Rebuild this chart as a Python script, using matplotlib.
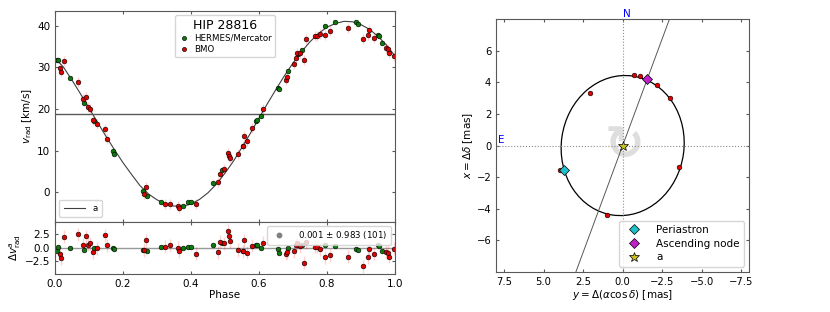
import numpy as np
import matplotlib
matplotlib.use('Agg')
import matplotlib.pyplot as plt
from matplotlib.patches import Ellipse

### radial velocity data (phase folded) ###

hermes_phase = [0.005, 0.010, 0.044, 0.085, 0.116, 0.170, 0.174, 0.258, 0.270, 0.311,
                0.377, 0.392, 0.400, 0.464, 0.492, 0.554, 0.591, 0.594, 0.605, 0.657,
                0.660, 0.686, 0.715, 0.725, 0.794, 0.824, 0.885, 0.890, 0.951, 0.954, 0.961]
hermes_rv = [31.7, 31.7, 27.4, 21.4, 17.2, 9.8, 9.3, 0.2, -1.0, -2.3,
             -3.2, -2.4, -2.3, 2.2, 5.3, 11.0, 17.0, 17.4, 18.4, 25.0,
             24.8, 29.1, 33.1, 34.1, 39.8, 40.8, 40.8, 40.3, 37.8, 37.5, 35.9]
hermes_res = [-0.5, 0.2, -0.1, -0.4, 0.0, 0.0, -0.25, -0.4, -0.6, 0.2,
              0.0, 0.2, 0.1, 0.55, 0.9, -0.5, 0.45, 0.45, -0.1, -0.2,
              -0.9, 0.0, 0.5, 0.6, 0.45, 0.3, -0.2, -0.4, 0.45, 0.4, -0.6]

bmo_phase = [0.015, 0.018, 0.026, 0.069, 0.083, 0.090, 0.098, 0.103, 0.111, 0.123,
             0.147, 0.152, 0.263, 0.267, 0.324, 0.338, 0.363, 0.366, 0.415, 0.480,
             0.485, 0.497, 0.510, 0.513, 0.515, 0.537, 0.552, 0.557, 0.564, 0.580,
             0.611, 0.680, 0.681, 0.703, 0.708, 0.713, 0.720, 0.732, 0.737, 0.765,
             0.770, 0.778, 0.794, 0.809, 0.863, 0.905, 0.921, 0.925, 0.939, 0.974,
             0.979, 0.983, 0.997]
bmo_rv = [29.9, 28.9, 31.6, 26.5, 22.4, 22.8, 20.4, 19.9, 17.4, 16.4,
          15.2, 12.9, -0.3, 1.3, -2.7, -2.7, -3.2, -3.8, -2.8, 2.4,
          4.5, 5.6, 9.5, 8.6, 8.2, 9.3, 11.0, 13.4, 12.2, 15.4,
          20.1, 27.0, 27.7, 30.8, 32.3, 33.5, 33.3, 31.7, 36.7, 37.4,
          37.6, 38.0, 37.8, 38.7, 39.5, 36.8, 37.8, 39.0, 37.1, 34.5,
          34.4, 33.5, 32.7]
bmo_res = [-1.1, -1.9, 2.0, 2.5, 0.6, 2.1, 0.6, 0.8, -0.8, -0.1,
           2.3, 0.5, -0.4, 1.4, 0.2, 0.5, 0.0, -0.6, -1.1, -0.8,
           1.1, 0.8, 3.1, 2.2, 1.25, -0.4, -0.6, 1.4, -0.9, 0.4,
           0.9, -1.1, -0.8, -0.6, 0.6, 0.8, 0.3, -2.7, 1.0, 0.2,
           0.2, -0.3, -1.7, -1.4, -1.6, -3.4, -1.75, -0.2, -1.1, -0.8,
           -0.9, -1.6, -0.2]
hermes_err = 0.15
bmo_err = 1.2

curve_phase = [0.000, 0.025, 0.050, 0.075, 0.100, 0.125, 0.150, 0.175, 0.200, 0.225,
               0.250, 0.275, 0.300, 0.325, 0.350, 0.375, 0.400, 0.425, 0.450, 0.475,
               0.500, 0.525, 0.550, 0.575, 0.600, 0.625, 0.650, 0.675, 0.700, 0.725,
               0.750, 0.775, 0.800, 0.825, 0.850, 0.875, 0.900, 0.925, 0.950, 0.975, 1.000]
curve_rv = [32.2, 30.0, 26.9, 23.6, 20.2, 16.8, 13.4, 10.2, 7.1, 4.3,
            1.6, -0.4, -1.8, -2.8, -3.3, -3.35, -2.8, -1.7, -0.1, 2.0,
            4.6, 7.5, 10.8, 14.2, 17.8, 21.3, 24.7, 28.0, 31.0, 33.7,
            36.1, 38.1, 39.6, 40.5, 41.0, 40.9, 40.2, 39.1, 37.4, 35.3, 32.7]
gamma = 18.7
res_label = '0.001 $\\pm$ 0.983 (101)'

### astrometric orbit ###

astro_y = [3.96, 2.06, -0.69, -1.09, -2.17, -2.97, -3.56, 1.01]
astro_x = [-1.52, 3.33, 4.48, 4.38, 3.85, 2.99, -1.37, -4.42]
periastron = (3.71, -1.58)
asc_node = (-1.56, 4.23)
orbit_width, orbit_height, orbit_angle = 7.75, 8.9, 8


plt.rcParams['font.size'] = 7.5
plt.rcParams['axes.edgecolor'] = '0.35'
plt.rcParams['xtick.color'] = '0.35'
plt.rcParams['ytick.color'] = '0.35'
plt.rcParams['xtick.labelcolor'] = 'black'
plt.rcParams['ytick.labelcolor'] = 'black'
plt.rcParams['xtick.direction'] = 'in'
plt.rcParams['ytick.direction'] = 'in'
plt.rcParams['xtick.major.size'] = 2.5
plt.rcParams['ytick.major.size'] = 2.5

fig = plt.figure(figsize=(8.3, 3.12), dpi=100)
ax1 = fig.add_axes([0.0663, 0.290, 0.4096, 0.675])
ax2 = fig.add_axes([0.0663, 0.1218, 0.4096, 0.168], sharex=ax1)
ax3 = fig.add_axes([0.5976, 0.129, 0.3052, 0.809])

pink = (1.0, 0.0, 0.0, 0.18)

# --- RV curve ---
ax1.plot(curve_phase, curve_rv, color='0.25', lw=0.8, label='a')
ax1.axhline(gamma, color='0.35', lw=1.0)
ax1.errorbar(bmo_phase, bmo_rv, yerr=bmo_err, fmt='none', ecolor=pink, lw=1.0)
ax1.errorbar(hermes_phase, hermes_rv, yerr=hermes_err, fmt='none', ecolor=pink, lw=1.0)
h1, = ax1.plot(hermes_phase, hermes_rv, 'o', color='#0b7a0b', mec='black', mew=0.4, ms=3.4,
               label='HERMES/Mercator')
h2, = ax1.plot(bmo_phase, bmo_rv, 'o', color='#e00000', mec='black', mew=0.4, ms=3.4,
               label='BMO')
ax1.set_xlim(0, 1)
ax1.set_ylim(-7, 43.5)
ax1.set_yticks([0, 10, 20, 30, 40])
ax1.set_ylabel(r'$v_{\rm rad}$ [km/s]', labelpad=2)
ax1.tick_params(top=True, right=True, labelbottom=False)

leg = ax1.legend(handles=[h1, h2], loc='upper center', title='HIP 28816', fontsize=6.2,
                 title_fontsize=9, handletextpad=0.6, borderpad=0.4, labelspacing=0.25,
                 handlelength=1.2, markerscale=0.9)
ax1.add_artist(leg)
line_h = ax1.get_lines()[0]
ax1.legend(handles=[line_h], loc='lower left', fontsize=6.2, handlelength=2.5, borderpad=0.5)

# --- residuals ---
ax2.axhline(0, color='0.6', lw=1.0)
ax2.errorbar(bmo_phase, bmo_res, yerr=bmo_err, fmt='none', ecolor=pink, lw=1.0)
ax2.plot(hermes_phase, hermes_res, 'o', color='#0b7a0b', mec='black', mew=0.4, ms=3.4)
ax2.plot(bmo_phase, bmo_res, 'o', color='#e00000', mec='black', mew=0.4, ms=3.4)
dummy, = ax2.plot([], [], 'o', color='0.5', ms=3.2, label=res_label)
ax2.legend(handles=[dummy], loc='upper right', fontsize=6.2, borderpad=0.4,
           handletextpad=1.2)
ax2.set_ylim(-4.8, 4.8)
ax2.set_yticks([-2.5, 0.0, 2.5])
ax2.set_xticks([0, 0.2, 0.4, 0.6, 0.8, 1.0])
ax2.set_xlabel('Phase', labelpad=1)
ax2.set_ylabel(r'$\Delta v^{a}_{\rm rad}$', labelpad=1)
ax2.tick_params(top=True, right=True)

# --- astrometric orbit ---
ax3.axhline(0, color='0.55', lw=0.8, ls=':')
ax3.axvline(0, color='0.55', lw=0.8, ls=':')
ax3.axline((0, 0), asc_node, color='0.35', lw=0.7)
ax3.add_patch(Ellipse((0, 0), orbit_width, orbit_height, angle=orbit_angle,
                      fill=False, ec='black', lw=0.9))
ax3.text(-0.1, -0.05, '\u21bb', fontsize=34, fontweight='bold', color='0.87',
         ha='center', va='center', zorder=1)
ax3.plot(astro_y, astro_x, 'o', color='#e00000', mec='black', mew=0.4, ms=3.4, zorder=3)
ax3.plot(*periastron, 'D', color='#20c0c8', mec='black', mew=0.5, ms=5, zorder=4,
         label='Periastron')
ax3.plot(*asc_node, 'D', color='#c020c8', mec='black', mew=0.5, ms=5, zorder=4,
         label='Ascending node')
ax3.plot(0, 0, '*', color='#c8c020', mec='black', mew=0.5, ms=7, zorder=4, label='a')
ax3.set_xlim(8, -8)
ax3.set_ylim(-8, 8)
ax3.set_xticks([7.5, 5.0, 2.5, 0.0, -2.5, -5.0, -7.5])
ax3.set_yticks([-6, -4, -2, 0, 2, 4, 6])
ax3.tick_params(top=True, right=True, labelsize=7.2)
ax3.text(0, 8.05, 'N', color='blue', fontsize=7.5, ha='left', va='bottom')
ax3.text(7.9, 0.05, 'E', color='blue', fontsize=7.5, ha='left', va='bottom')
ax3.set_xlabel(r'$y = \Delta(\alpha \cos\delta)$ [mas]', labelpad=1)
ax3.set_ylabel(r'$x = \Delta\delta$ [mas]', labelpad=1)
ax3.legend(loc='lower right', fontsize=7.5, handletextpad=1.2, borderpad=0.4,
           labelspacing=0.35)

fig.savefig('out.png', dpi=100)
